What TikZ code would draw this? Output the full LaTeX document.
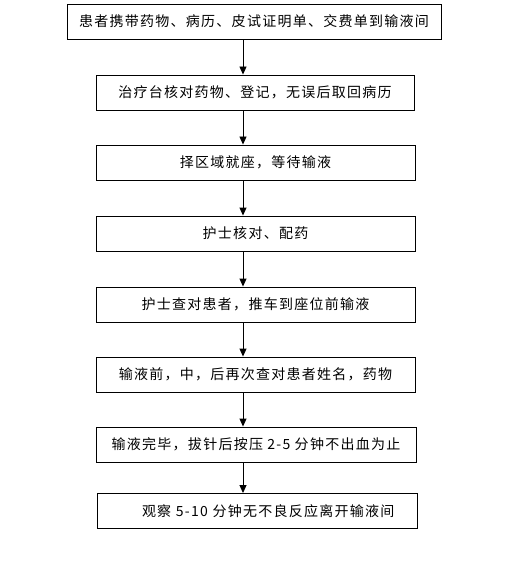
\documentclass[tikz,border=0pt]{standalone}
\usepackage{fontspec}
\setmainfont[LetterSpace=9]{Noto Sans CJK SC}
\usetikzlibrary{arrows.meta}
\begin{document}
\begin{tikzpicture}[x=1pt,y=-1pt,
  stepbox/.style={draw,line width=0.9pt,minimum height=35pt,inner sep=0pt,font=\fontsize{14}{16}\selectfont},
  flow/.style={line width=0.9pt,-{Triangle[length=8pt,width=7pt]}}]
\useasboundingbox (0,0) rectangle (529,561);
\node[stepbox,minimum width=374pt] (b1) at (254,21.5) {患者携带药物、病历、皮试证明单、交费单到输液间};
\node[stepbox,minimum width=318pt] (b2) at (255,92.5) {治疗台核对药物、登记，无误后取回病历};
\node[stepbox,minimum width=319pt] (b3) at (255.5,162.5) {择区域就座，等待输液};
\node[stepbox,minimum width=319pt] (b4) at (255.5,233.5) {护士核对、配药};
\node[stepbox,minimum width=319pt] (b5) at (255.5,304.5) {护士查对患者，推车到座位前输液};
\node[stepbox,minimum width=319pt] (b6) at (255.5,374.5) {输液前，中，后再次查对患者姓名，药物};
\node[stepbox,minimum width=320pt] (b7) at (256,444.5) {输液完毕，拔针后按压 2-5 分钟不出血为止};
\node[stepbox,minimum width=320pt,text width=310pt,align=left] (b8) at (257,511) {\hspace*{40pt}观察 5-10 分钟无不良反应离开输液间};
\coordinate (ax) at (243,0);
\draw[flow] (b1.south -| ax) -- (b2.north -| ax);
\draw[flow] (b2.south -| ax) -- (b3.north -| ax);
\draw[flow] (b3.south -| ax) -- (b4.north -| ax);
\draw[flow] (b4.south -| ax) -- (b5.north -| ax);
\draw[flow] (b5.south -| ax) -- (b6.north -| ax);
\draw[flow] (b6.south -| ax) -- (b7.north -| ax);
\draw[flow] (b7.south -| ax) -- (b8.north -| ax);
\end{tikzpicture}
\end{document}
